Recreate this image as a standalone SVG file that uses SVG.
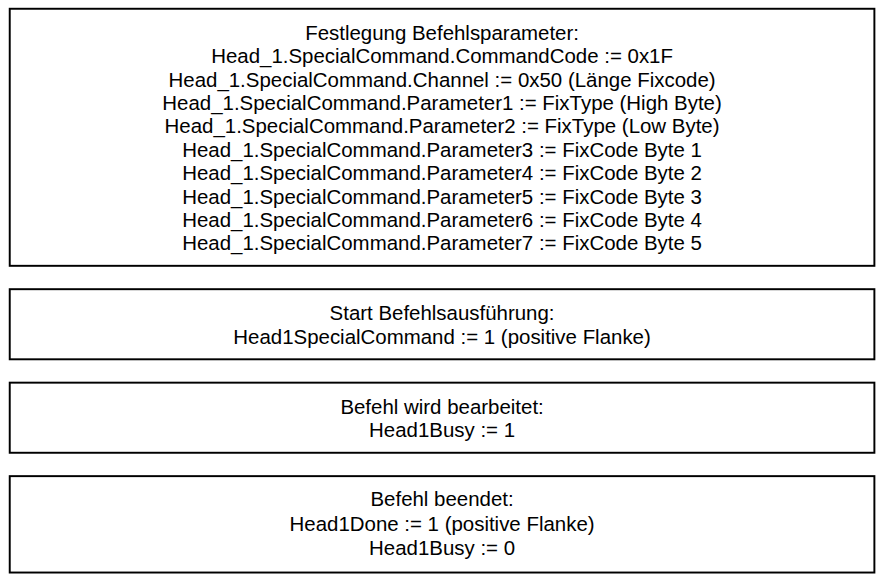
<svg xmlns="http://www.w3.org/2000/svg" width="885" height="581" viewBox="0 0 885 581">
<style>
.box{fill:#fff;stroke:#000;stroke-width:2}
.t{font-family:"Liberation Sans",Arial,sans-serif;font-size:21px;fill:#000;text-anchor:middle}
</style>
<rect width="885" height="581" fill="#fff"/>
<g transform="scale(0.9737)">
<g id="n1">
<rect class="box" x="10" y="9" width="888" height="264"/>
<text class="t" x="454" y="41">Festlegung Befehlsparameter:</text>
<text class="t" x="454" y="65">Head_1.SpecialCommand.CommandCode := 0x1F</text>
<text class="t" x="454" y="89">Head_1.SpecialCommand.Channel := 0x50 (Länge Fixcode)</text>
<text class="t" x="454" y="113">Head_1.SpecialCommand.Parameter1 := FixType (High Byte)</text>
<text class="t" x="454" y="137">Head_1.SpecialCommand.Parameter2 := FixType (Low Byte)</text>
<text class="t" x="454" y="161">Head_1.SpecialCommand.Parameter3 := FixCode Byte 1</text>
<text class="t" x="454" y="185">Head_1.SpecialCommand.Parameter4 := FixCode Byte 2</text>
<text class="t" x="454" y="209">Head_1.SpecialCommand.Parameter5 := FixCode Byte 3</text>
<text class="t" x="454" y="233">Head_1.SpecialCommand.Parameter6 := FixCode Byte 4</text>
<text class="t" x="454" y="257">Head_1.SpecialCommand.Parameter7 := FixCode Byte 5</text>
</g>
<g id="n2">
<rect class="box" x="10" y="297" width="888" height="72"/>
<text class="t" x="454" y="329">Start Befehlsausführung:</text>
<text class="t" x="454" y="353">Head1SpecialCommand := 1 (positive Flanke)</text>
</g>
<g id="n3">
<rect class="box" x="10" y="393" width="888" height="72"/>
<text class="t" x="454" y="425">Befehl wird bearbeitet:</text>
<text class="t" x="454" y="449">Head1Busy := 1</text>
</g>
<g id="n4">
<rect class="box" x="10" y="489" width="888" height="99"/>
<text class="t" x="454" y="520">Befehl beendet:</text>
<text class="t" x="454" y="545">Head1Done := 1 (positive Flanke)</text>
<text class="t" x="454" y="570">Head1Busy := 0</text>
</g>
<g id="connectors"></g>
</g>
</svg>
